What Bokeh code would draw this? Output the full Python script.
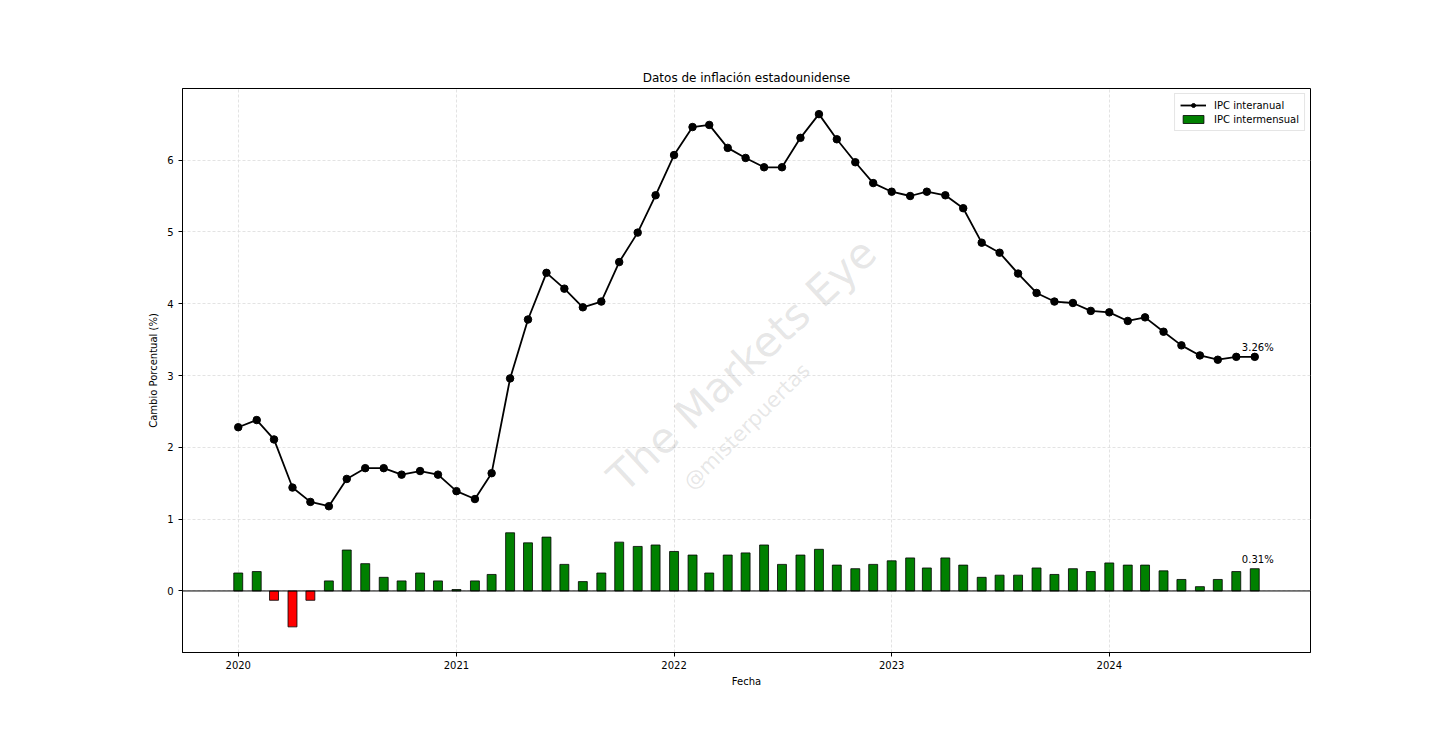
import pandas as pd
from bokeh.plotting import figure
from bokeh.models import (ColumnDataSource, FixedTicker, DatetimeTickFormatter, Span,
                          Label, Legend, LegendItem, Range1d)
from bokeh.embed import file_html
from bokeh.resources import INLINE

# ---------------- data ----------------
months = pd.date_range("2020-01-01", periods=57, freq="MS")

ipc_interanual = [
    2.28, 2.38, 2.11, 1.44, 1.24, 1.18, 1.56, 1.71, 1.71, 1.62, 1.67, 1.62,
    1.39, 1.28, 1.64, 2.96, 3.78, 4.43, 4.21, 3.95, 4.03, 4.58, 4.99, 5.51,
    6.07, 6.46, 6.49, 6.17, 6.03, 5.90, 5.90, 6.31, 6.64, 6.29, 5.97, 5.68,
    5.56, 5.50, 5.56, 5.51, 5.33, 4.85, 4.71, 4.42, 4.15, 4.03, 4.01, 3.90,
    3.88, 3.76, 3.81, 3.61, 3.42, 3.28, 3.22, 3.26, 3.26,
]
ipc_intermensual = [
    0.25, 0.27, -0.13, -0.50, -0.13, 0.14, 0.57, 0.38, 0.19, 0.14, 0.25, 0.14,
    0.02, 0.14, 0.23, 0.81, 0.67, 0.75, 0.37, 0.13, 0.25, 0.68, 0.62, 0.64,
    0.55, 0.50, 0.25, 0.50, 0.53, 0.64, 0.37, 0.50, 0.58, 0.36, 0.31, 0.37,
    0.42, 0.46, 0.32, 0.46, 0.36, 0.19, 0.22, 0.22, 0.32, 0.23, 0.31, 0.27,
    0.39, 0.36, 0.36, 0.28, 0.16, 0.06, 0.16, 0.27, 0.31,
]
year_ticks = ["2020", "2021", "2022", "2023", "2024"]
y_ticks = [0, 1, 2, 3, 4, 5, 6]

title_text = "Datos de inflación estadounidense"
x_label = "Fecha"
y_label = "Cambio Porcentual (%)"
legend_line = "IPC interanual"
legend_bar = "IPC intermensual"
watermark_main = "The Markets Eye"
watermark_sub = "@misterpuertas"

FONT = "DejaVu Sans"

# ---------------- derived ----------------
bar_width = pd.Timedelta(days=15)
x0 = months[0] - bar_width / 2
x1 = months[-1] + bar_width / 2
xpad = (x1 - x0) * 0.05
ymin = min(min(ipc_intermensual), 0)
ymax = max(ipc_interanual)
ypad = (ymax - ymin) * 0.05

def ms(ts):
    return pd.Timestamp(ts).value / 1e6

src = ColumnDataSource(dict(
    x=months,
    yoy=ipc_interanual,
    mom=ipc_intermensual,
    color=["green" if v >= 0 else "red" for v in ipc_intermensual],
))

p = figure(width=1440, height=717, x_axis_type="datetime",
           x_range=Range1d(ms(x0 - xpad), ms(x1 + xpad)),
           y_range=Range1d(ymin - ypad, ymax + ypad),
           output_backend="svg", toolbar_location=None,
           min_border_left=182, min_border_right=130,
           min_border_top=88, min_border_bottom=65)

p.title.text = title_text
p.title.text_font = FONT
p.title.text_font_size = "12px"
p.title.text_font_style = "normal"
p.title.text_color = "black"
p.title.align = "center"
p.title.standoff = 8

p.background_fill_color = "white"
p.border_fill_color = "white"
p.outline_line_color = "black"
p.outline_line_width = 1

# grid
for g in (p.xgrid, p.ygrid):
    g.grid_line_color = "#dcdcdc"
    g.grid_line_alpha = 0.8
    g.grid_line_dash = "3 2"
    g.grid_line_width = 1

# axes
p.xaxis.ticker = FixedTicker(ticks=[ms(f"{y}-01-01") for y in year_ticks])
p.xaxis.formatter = DatetimeTickFormatter(
    years="%Y", months="%Y", days="%Y", hours="%Y", minutes="%Y",
    seconds="%Y", milliseconds="%Y", microseconds="%Y", hourmin="%Y",
    minsec="%Y")
p.yaxis.ticker = FixedTicker(ticks=y_ticks)
p.xaxis.axis_label = x_label
p.yaxis.axis_label = y_label
for ax in (p.xaxis, p.yaxis):
    ax.axis_line_color = "black"
    ax.major_tick_line_color = "black"
    ax.major_tick_in = 0
    ax.major_tick_out = 4
    ax.minor_tick_line_color = None
    ax.major_label_text_font = FONT
    ax.major_label_text_font_size = "10px"
    ax.major_label_text_color = "black"
    ax.axis_label_text_font = FONT
    ax.axis_label_text_font_size = "10px"
    ax.axis_label_text_font_style = "normal"
    ax.axis_label_text_color = "black"
p.xaxis.major_label_standoff = 4
p.yaxis.major_label_standoff = 5
p.xaxis.axis_label_standoff = 4
p.yaxis.axis_label_standoff = 5

# watermark
p.add_layout(Label(x=ms("2022-04-25"), y=3.15, text=watermark_main,
                   angle=43, angle_units="deg", text_align="center",
                   text_baseline="middle", text_font=FONT,
                   text_font_size="42px", text_color="gray", text_alpha=0.2))
p.add_layout(Label(x=ms("2022-05-03"), y=2.29, text=watermark_sub,
                   angle=45, angle_units="deg", text_align="center",
                   text_baseline="middle", text_font=FONT,
                   text_font_size="21px", text_color="gray", text_alpha=0.2))

# bars
bar_r = p.vbar(x="x", top="mom", bottom=0, width=bar_width.total_seconds() * 1000,
               source=src, fill_color="color", line_color="black", line_width=0.8)

# zero line
p.add_layout(Span(location=0, dimension="width", line_color="black", line_width=1))

# line + markers
line_r = p.line(x="x", y="yoy", source=src, line_color="black", line_width=1.8)
scat_r = p.scatter(x="x", y="yoy", source=src, size=7.5, fill_color="black",
                   line_color="black", marker="circle")

# end annotations
p.add_layout(Label(x=ms(months[-1]), y=ipc_interanual[-1],
                   text=f"{ipc_interanual[-1]:.2f}%", text_align="center",
                   text_baseline="middle", y_offset=9, x_offset=3, text_font=FONT,
                   text_font_size="10px", text_color="black"))
p.add_layout(Label(x=ms(months[-1]), y=ipc_intermensual[-1],
                   text=f"{ipc_intermensual[-1]:.2f}%", text_align="center",
                   text_baseline="middle", y_offset=9, x_offset=3, text_font=FONT,
                   text_font_size="10px", text_color="black"))

legend = Legend(items=[
    LegendItem(label=legend_line, renderers=[line_r, scat_r]),
    LegendItem(label=legend_bar, renderers=[bar_r], index=0),
], location="top_right")
legend.margin = 5
legend.padding = 5
legend.spacing = 2
legend.glyph_width = 26
legend.glyph_height = 10
legend.label_height = 12
legend.label_standoff = 8
legend.label_text_font = FONT
legend.label_text_font_size = "10px"
legend.label_text_color = "black"
legend.border_line_color = "#cccccc"
legend.background_fill_alpha = 0.8
p.add_layout(legend)

open("out.html", "w").write(file_html(p, INLINE))
